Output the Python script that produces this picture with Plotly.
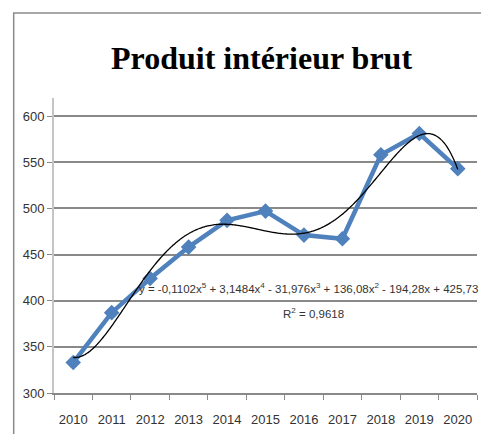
import numpy as np
import plotly.graph_objects as go

years = ["2010", "2011", "2012", "2013", "2014", "2015", "2016", "2017", "2018", "2019", "2020"]
pib = [333, 387, 424, 458, 487, 497, 471, 467, 558, 581, 543]
# displayed trendline coefficients (x^5 ... x^0)
trend_coefs = [-0.1102, 3.1484, -31.976, 136.08, -194.28, 425.73]
y_ticks = [300, 350, 400, 450, 500, 550, 600]

idx = np.arange(1, len(years) + 1)
xt = np.linspace(1, len(years), 300)
yt = np.polyval(trend_coefs, xt)

SANS = "Liberation Sans, Arial, sans-serif"
BLUE = "#4F81BD"
GRID = "#898989"

fig = go.Figure()
fig.add_trace(go.Scatter(
    x=idx, y=pib, mode="lines+markers",
    line=dict(color=BLUE, width=4.5),
    marker=dict(symbol="diamond", size=12, color=BLUE),
    showlegend=False, cliponaxis=False,
))
fig.add_trace(go.Scatter(
    x=xt, y=yt, mode="lines",
    line=dict(color="black", width=1.3, shape="spline"),
    showlegend=False,
))

# page body has an 8px margin, so the figure is sized/positioned to compensate
fig.update_layout(
    width=481, height=426,
    margin=dict(l=46, r=12, t=90, b=41, autoexpand=False),
    paper_bgcolor="white", plot_bgcolor="white",
    font=dict(family=SANS, size=13, color="#333333"),
    xaxis=dict(
        range=[0.5, len(years) + 0.5],
        tickvals=list(idx), ticktext=years,
        ticks="", showgrid=False, zeroline=False,
        showline=True, linecolor=GRID, linewidth=1.5,
        ticklabelstandoff=14,
        minor=dict(tickvals=[i + 0.5 for i in range(len(years) + 1)],
                   ticks="outside", ticklen=5, tickcolor=GRID, tickwidth=1.3,
                   showgrid=False),
        fixedrange=True,
    ),
    yaxis=dict(
        range=[300, 619.5], tickvals=y_ticks,
        showgrid=True, gridcolor=GRID, gridwidth=1.5,
        zeroline=False,
        showline=True, linecolor="#c4c4c4", linewidth=2,
        ticks="outside", ticklen=5, tickcolor=GRID, tickwidth=1.3,
        ticklabelstandoff=0,
    ),
)

fig.add_annotation(
    text="<b>Produit intérieur brut</b>", xref="paper", yref="paper",
    x=0.4914, y=1.136, xanchor="center", yanchor="middle", showarrow=False,
    font=dict(family="Liberation Serif, Times New Roman, serif", size=32, color="black"),
)
fig.add_annotation(
    text="y = -0,1102x<sup>5</sup> + 3,1484x<sup>4</sup> - 31,976x<sup>3</sup> + 136,08x<sup>2</sup> - 194,28x + 425,73",
    x=7.115, y=413.5, xanchor="center", yanchor="middle", showarrow=False,
    font=dict(family=SANS, size=11.5, color="#333333"),
)
fig.add_annotation(
    text="R<sup>2</sup> = 0,9618",
    x=7.245, y=386.5, xanchor="center", yanchor="middle", showarrow=False,
    font=dict(family=SANS, size=11.5, color="#333333"),
)
fig.add_shape(
    type="rect", xref="paper", yref="paper",
    x0=-0.0953, x1=1.2, y0=-0.3, y1=1.2878,
    line=dict(color="#8a8a8a", width=1.5), fillcolor="rgba(0,0,0,0)", layer="below",
)

fig.write_html("out.html")
